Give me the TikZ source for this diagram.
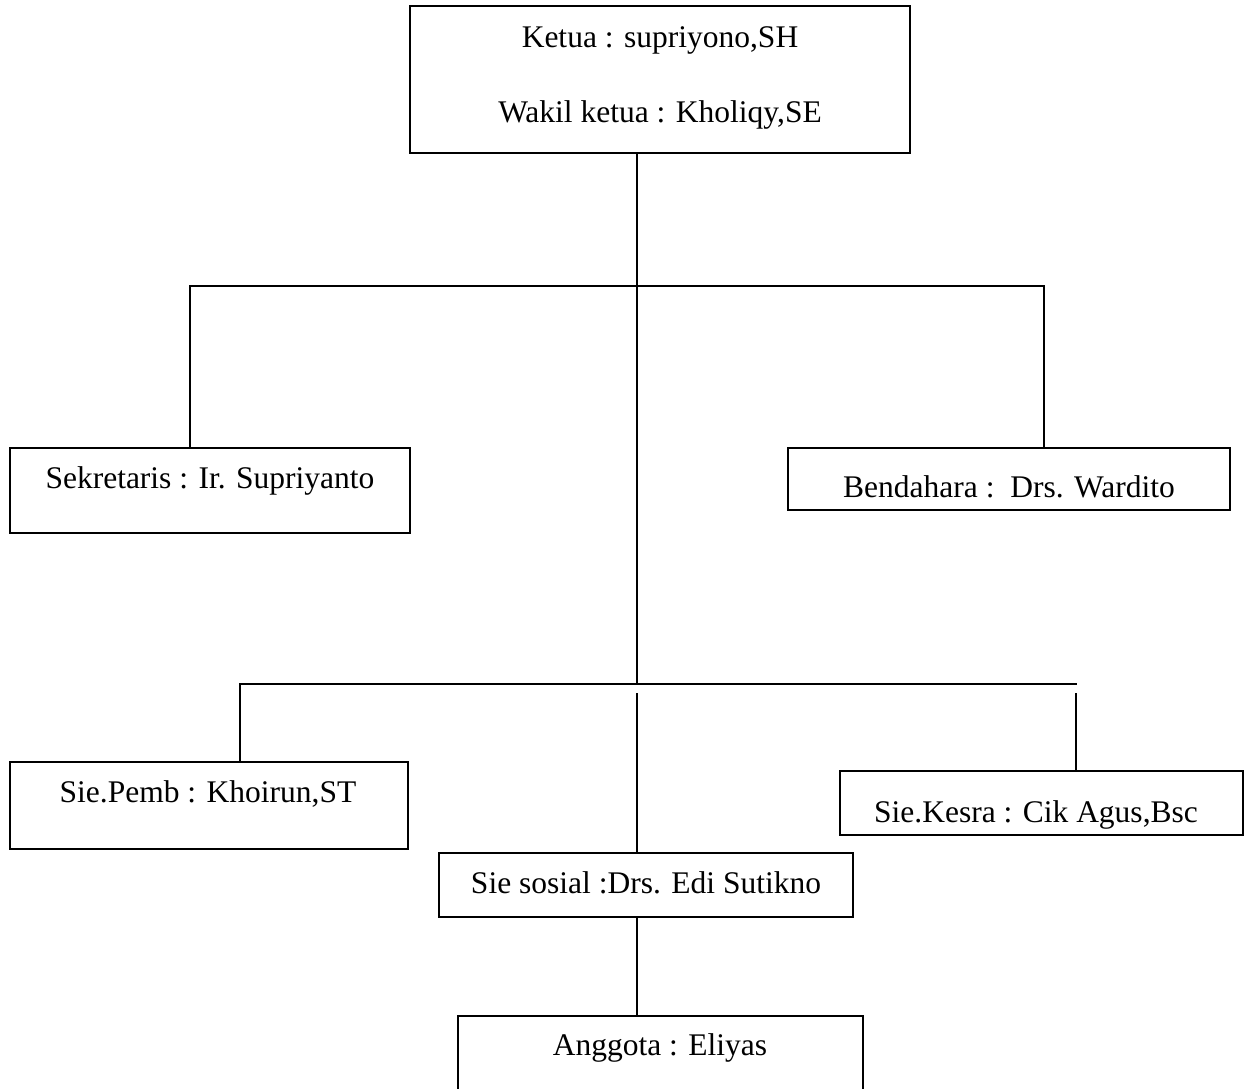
\documentclass[tikz,border=0pt]{standalone}
\usepackage{fontspec}
\setmainfont{Liberation Serif}
\begin{document}
\begin{tikzpicture}[x=1pt,y=-1pt,
  box/.style={draw, line width=1.5pt, rectangle, inner sep=0pt},
  lbl/.style={inner sep=0pt, anchor=base, font=\fontsize{31.5}{36}\selectfont},
  conn/.style={line width=1.5pt}]
\clip (0,0) rectangle (1246,1088);
\fill[white] (0,0) rectangle (1246,1088);
% boxes
\node[box, minimum width=500pt, minimum height=147pt] (ketua) at (660,79.5) {};
\node[box, minimum width=400pt, minimum height=85pt] (sek) at (210,490.5) {};
\node[box, minimum width=442pt, minimum height=62pt] (bend) at (1009,479) {};
\node[box, minimum width=398pt, minimum height=87pt] (pemb) at (209,805.5) {};
\node[box, minimum width=403pt, minimum height=64pt] (kesra) at (1041.5,803) {};
\node[box, minimum width=414pt, minimum height=64pt] (sosial) at (646,885) {};
\node[box, minimum width=405pt, minimum height=140pt] (anggota) at (660.5,1086) {};
% labels
\node[lbl] (t1) at (660,47) {Ketua : supriyono,SH};
\node[lbl] (t2) at (660,122) {Wakil ketua : Kholiqy,SE};
\node[lbl] (t3) at (210,488) {Sekretaris : Ir. Supriyanto};
\node[lbl] (t4) at (1009,497) {Bendahara :\ \ Drs. Wardito};
\node[lbl] (t5) at (208,802) {Sie.Pemb : Khoirun,ST};
\node[lbl] (t6) at (1036,822) {Sie.Kesra : Cik Agus,Bsc};
\node[lbl] (t7) at (646,893) {Sie sosial :Drs. Edi Sutikno};
\node[lbl] (t8) at (660,1055) {Anggota : Eliyas};
% junction coordinates
\coordinate (h1L) at (190,286);
\coordinate (h1R) at (1044,286);
\coordinate (h2L) at (240,684);
\coordinate (h2R) at (1077,684);
\coordinate (h2C) at (637,684);
\coordinate (g) at (637,693);
\coordinate (gR) at (1076,693);
% connectors
\draw[conn] (ketua.south -| h2C) -- (h2C);
\draw[conn] (sek.north -| h1L) -- (h1L) -- (h1R) -- (bend.north -| h1R);
\draw[conn] (pemb.north -| h2L) -- (h2L) -- (h2R);
\draw[conn] (g) -- (sosial.north -| g);
\draw[conn] (gR) -- (kesra.north -| gR);
\draw[conn] (sosial.south -| g) -- (anggota.north -| g);
\end{tikzpicture}
\end{document}
